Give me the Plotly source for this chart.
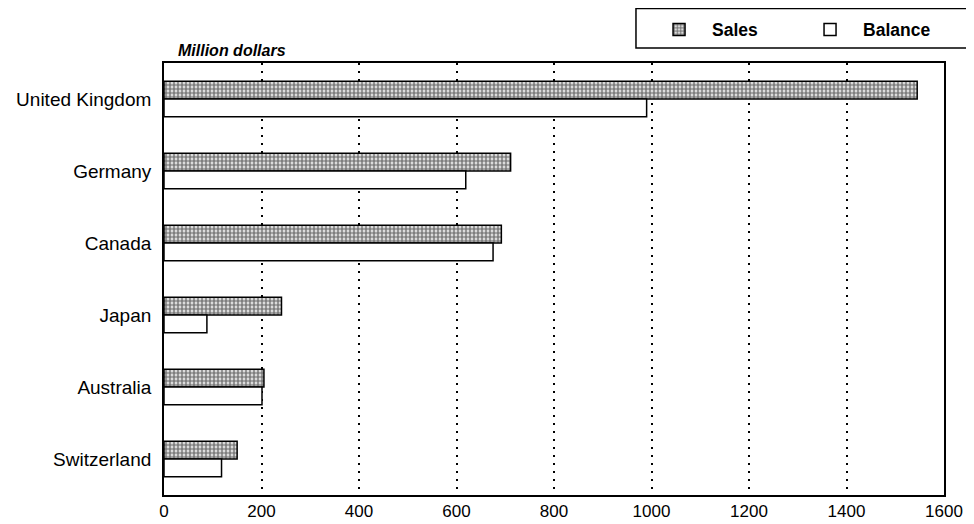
import plotly.graph_objects as go

countries = ["United Kingdom", "Germany", "Canada", "Japan", "Australia", "Switzerland"]
sales = [1545, 711, 692, 241, 205, 150]
balance = [990, 619, 675, 88, 201, 118]
x_ticks = [0, 200, 400, 600, 800, 1000, 1200, 1400, 1600]

FONT = "Liberation Sans, Arial, sans-serif"

fig = go.Figure()
fig.add_trace(go.Bar(
    y=countries, x=sales, orientation="h", name="Sales",
    marker=dict(color="white", line=dict(color="black", width=1.5),
                pattern=dict(shape=".", fgcolor="black", bgcolor="white",
                             size=4, solidity=0.7, fillmode="overlay")),
))
fig.add_trace(go.Bar(
    y=countries, x=balance, orientation="h", name="Balance",
    marker=dict(color="white", line=dict(color="black", width=1.5)),
))

fig.update_layout(
    width=974, height=524,
    margin=dict(l=156, r=38, t=55, b=37, autoexpand=False),
    paper_bgcolor="white", plot_bgcolor="white",
    barmode="group", bargap=0.51, bargroupgap=0,
    font=dict(family=FONT, size=17, color="black"),
    showlegend=True,
    legend=dict(
        orientation="h", x=0.618, xanchor="left", y=1.119, yanchor="top",
        borderwidth=0, bgcolor="rgba(0,0,0,0)",
        font=dict(family=FONT, size=17.5, color="black", weight="bold"),
        entrywidth=80, entrywidthmode="pixels", itemwidth=56,
        traceorder="normal",
    ),
    xaxis=dict(
        range=[0, 1600], tickvals=x_ticks, ticktext=[str(v) for v in x_ticks],
        showgrid=True, gridcolor="black", griddash="1.5px,6.5px", gridwidth=1.5,
        showline=True, linecolor="black", linewidth=1.8, mirror=True,
        ticks="", zeroline=False, tickfont=dict(size=17),
    ),
    yaxis=dict(
        categoryorder="array", categoryarray=countries, autorange="reversed",
        showline=True, linecolor="black", linewidth=1.8, mirror=True,
        ticks="", showgrid=False, ticklabelstandoff=7, tickfont=dict(size=19),
    ),
    shapes=[dict(
        type="rect", xref="paper", yref="paper",
        x0=0.6051, x1=1.0333, y0=1.0347, y1=1.1262,
        line=dict(color="black", width=1.5), fillcolor="rgba(0,0,0,0)",
    )],
    annotations=[dict(
        text="<b><i>Million dollars</i></b>", xref="paper", yref="paper",
        x=0.016, y=1, xanchor="left", yanchor="bottom", yshift=2,
        showarrow=False, font=dict(family=FONT, size=16, color="black"),
    )],
)

fig.write_html("out.html")
